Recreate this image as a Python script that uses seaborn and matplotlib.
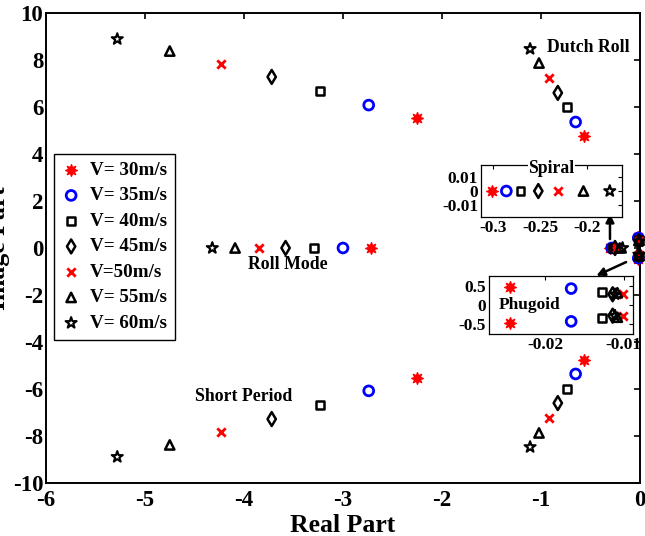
import matplotlib
matplotlib.use("Agg")
import matplotlib.pyplot as plt
import pandas as pd
import seaborn as sns

# Flight speeds (legend labels)
speeds = ["V= 30m/s", "V= 35m/s", "V= 40m/s", "V= 45m/s", "V=50m/s", "V= 55m/s", "V= 60m/s"]

# Short-period mode (complex pair)
short_re = [-2.25, -2.74, -3.23, -3.72, -4.23, -4.75, -5.28]
short_im = [5.53, 6.08, 6.68, 7.28, 7.83, 8.38, 8.89]

# Dutch-roll mode (complex pair)
dutch_re = [-0.57, -0.65, -0.74, -0.83, -0.92, -1.02, -1.11]
dutch_im = [4.78, 5.36, 5.99, 6.60, 7.23, 7.87, 8.47]

# Roll mode (real)
roll_re = [-2.72, -3.00, -3.29, -3.58, -3.85, -4.09, -4.32]

# Spiral mode (real)
spiral_re = [-0.301, -0.286, -0.271, -0.252, -0.231, -0.204, -0.176]

# Phugoid mode (complex pair)
phugoid_re = [-0.0245, -0.0167, -0.0128, -0.0114, -0.0101, -0.0108, -0.0111]
phugoid_im = [0.48, 0.43, 0.35, 0.28, 0.30, 0.32, 0.28]

main_xticks = [-6, -5, -4, -3, -2, -1, 0]
main_yticks = [-10, -8, -6, -4, -2, 0, 2, 4, 6, 8, 10]
spiral_xticks = [-0.3, -0.25, -0.2]
spiral_xlabels = ["-0.3", "-0.25", "-0.2"]
spiral_yticks = [-0.01, 0, 0.01]
spiral_ylabels = ["-0.01", "0", "0.01"]
phugoid_xticks = [-0.02, -0.01]
phugoid_xlabels = ["-0.02", "-0.01"]
phugoid_yticks = [-0.5, 0, 0.5]
phugoid_ylabels = ["-0.5", "0", "0.5"]

sns.set_theme(style="white")
plt.rcParams["font.family"] = ["Liberation Serif", "DejaVu Serif"]
plt.rcParams.update({
    "font.weight": "bold",
    "axes.labelweight": "bold",
    "axes.labelcolor": "black",
    "axes.edgecolor": "black",
    "axes.linewidth": 1.4,
    "axes.unicode_minus": False,
    "xtick.direction": "in",
    "ytick.direction": "in",
    "xtick.color": "black",
    "ytick.color": "black",
    "xtick.labelcolor": "black",
    "ytick.labelcolor": "black",
    "xtick.major.size": 4,
    "ytick.major.size": 4,
    "xtick.major.width": 1.2,
    "ytick.major.width": 1.2,
    "text.color": "black",
})

styles = [
    dict(marker=(8, 1, 0), color="red", edgecolor="red", linewidth=1.0, s=70),
    dict(marker="o", color="blue", facecolor="none", edgecolor="blue", linewidth=2.0, s=50),
    dict(marker="s", color="black", facecolor="none", edgecolor="black", linewidth=1.8, s=32),
    dict(marker="d", color="black", facecolor="none", edgecolor="black", linewidth=1.8, s=50),
    dict(marker="x", color="red", linewidth=2.0, s=36),
    dict(marker="^", color="black", facecolor="none", edgecolor="black", linewidth=1.8, s=45),
    dict(marker="*", color="black", facecolor="none", edgecolor="black", linewidth=1.5, s=70),
]

fig = plt.figure(figsize=(6.45, 5.36), dpi=100)
ax = fig.add_axes([0.0713, 0.0989, 0.9209, 0.8769])

for i, label in enumerate(speeds):
    df = pd.DataFrame({
        "re": [short_re[i], short_re[i], dutch_re[i], dutch_re[i], roll_re[i],
               spiral_re[i], phugoid_re[i], phugoid_re[i]],
        "im": [short_im[i], -short_im[i], dutch_im[i], -dutch_im[i], 0.0,
               0.0, phugoid_im[i], -phugoid_im[i]],
    })
    sns.scatterplot(data=df, x="re", y="im", ax=ax, label=label, clip_on=False,
                    zorder=3, **styles[i])

ax.set_xlim(-6, 0)
ax.set_ylim(-10, 10)
ax.set_xticks(main_xticks)
ax.set_yticks(main_yticks)
ax.tick_params(axis="both", which="major", labelsize=16.5, top=True, right=True)
ax.tick_params(axis="x", pad=5)
ax.tick_params(axis="y", pad=2)
ax.set_xlabel("Real Part", fontsize=18.5, labelpad=2)
ax.set_ylabel("Image Part", fontsize=18.5)
ax.yaxis.set_label_coords(-0.06, 0.5)

leg = ax.legend(loc="upper left", bbox_to_anchor=(0.0135, 0.700), borderaxespad=0,
                frameon=True, fancybox=False, framealpha=1, edgecolor="black",
                fontsize=13.7, handlelength=1.0, handletextpad=0.5,
                labelspacing=0.43, borderpad=0.4)
leg.get_frame().set_linewidth(1.0)
leg.set_zorder(5)

ax.text(-0.94, 8.51, "Dutch Roll", fontsize=12.8, fontweight="bold", ha="left", va="center")
ax.text(-3.56, -0.72, "Roll Mode", fontsize=12.8, fontweight="bold", ha="center", va="center")
ax.text(-4.0, -6.3, "Short Period", fontsize=12.8, fontweight="bold", ha="center", va="center")

arrow = dict(arrowstyle="-|>", color="black", lw=1.8, mutation_scale=12, shrinkA=0, shrinkB=0)
ax.annotate("", xy=(-0.303, 1.45), xytext=(-0.303, 0.38), arrowprops=arrow)
ax.annotate("", xy=(-0.44, -1.18), xytext=(-0.14, -0.6), arrowprops=arrow)

# Zoomed views of the spiral and phugoid roots
ax_s = fig.add_axes([0.7457, 0.5951, 0.2186, 0.0970])
ax_p = fig.add_axes([0.7581, 0.3769, 0.2233, 0.1082])

for i, label in enumerate(speeds):
    sns.scatterplot(x=[spiral_re[i]], y=[0.0], ax=ax_s, legend=False, zorder=3, **styles[i])
    sns.scatterplot(x=[phugoid_re[i], phugoid_re[i]], y=[phugoid_im[i], -phugoid_im[i]],
                    ax=ax_p, legend=False, zorder=3, **styles[i])

for a, xt, xl, yt, yl in [(ax_s, spiral_xticks, spiral_xlabels, spiral_yticks, spiral_ylabels),
                          (ax_p, phugoid_xticks, phugoid_xlabels, phugoid_yticks, phugoid_ylabels)]:
    a.set_facecolor("white")
    a.set_xticks(xt)
    a.set_xticklabels(xl)
    a.set_yticks(yt)
    a.set_yticklabels(yl)
    a.set_xlabel("")
    a.set_ylabel("")
    a.tick_params(labelsize=12.5, length=3, width=0.8, top=True, right=True, pad=2)
    for sp in a.spines.values():
        sp.set_linewidth(0.9)

ax_s.set_xlim(-0.313, -0.163)
ax_s.set_ylim(-0.0186, 0.0186)
ax_p.set_xlim(-0.0272, -0.0088)
ax_p.set_ylim(-0.76, 0.76)

ax_s.text(0.5, 0.93, "Spiral", transform=ax_s.transAxes, fontsize=12.7, fontweight="bold",
          ha="center", va="center", zorder=6,
          bbox=dict(facecolor="white", edgecolor="none", pad=0.5))
ax_p.text(0.07, 0.5, "Phugoid", transform=ax_p.transAxes, fontsize=12.5, fontweight="bold",
          ha="left", va="center", zorder=6)

fig.savefig("out.png", dpi=100)
